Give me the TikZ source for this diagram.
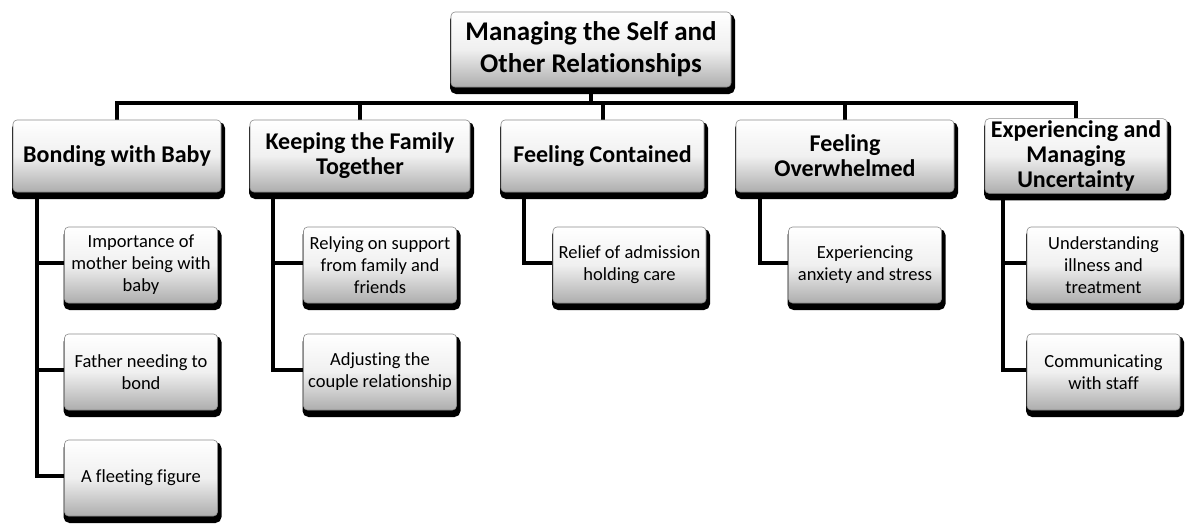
\documentclass[tikz,border=0pt]{standalone}
\usepackage{fontspec}
\setmainfont[Ligatures=NoCommon]{Carlito}
\usetikzlibrary{backgrounds,shadows}
\tikzset{
 boxbase/.style={rounded corners=4pt, draw=black!45, line width=0.6pt,
   top color=white, bottom color=black!32, middle color=black!6,
   align=center, inner sep=2pt, text=black,
   general shadow={fill=black, draw=black, line width=5pt, shadow xshift=1.5pt, shadow yshift=-4.5pt}},
 topbox/.style={boxbase, minimum width=280pt, minimum height=75pt, font=\bfseries\fontsize{27}{32}\selectfont},
 mainbox/.style={boxbase, minimum height=72pt, font=\bfseries\fontsize{24}{25}\selectfont},
 subbox/.style={boxbase, minimum width=153pt, minimum height=76pt, font=\fontsize{18.5}{22}\selectfont},
 conn/.style={line width=4pt, draw=black}
}
\begin{document}
\begin{tikzpicture}[x=1pt,y=1pt]
\useasboundingbox (0,0) rectangle (1189,-525);
\node[topbox] (t) at (591,-49.5) {Managing the Self and\\Other Relationships};
\node[mainbox, minimum width=208pt] (b) at (117,-156) {Bonding with Baby};
\node[mainbox, minimum width=220pt] (k) at (360,-156) {Keeping the Family\\Together};
\node[mainbox, minimum width=203pt] (c) at (602.5,-156) {Feeling Contained};
\node[mainbox, minimum width=218pt] (o) at (845,-156) {Feeling\\Overwhelmed};
\node[mainbox, minimum width=182pt] (e) at (1076,-156) {Experiencing and\\Managing\\Uncertainty};

\node[subbox] (b1) at (141,-265) {Importance of\\mother being with\\baby};
\node[subbox] (b2) at (141,-372) {Father needing to\\bond};
\node[subbox] (b3) at (141,-478) {A fleeting figure};
\node[subbox] (k1) at (380,-265) {Relying on support\\from family and\\friends};
\node[subbox] (k2) at (380,-372) {Adjusting the\\couple relationship};
\node[subbox] (c1) at (629.5,-265) {Relief of admission\\holding care};
\node[subbox] (o1) at (865,-265) {Experiencing\\anxiety and stress};
\node[subbox] (e1) at (1103.5,-265) {Understanding\\illness and\\treatment};
\node[subbox] (e2) at (1103.5,-372) {Communicating\\with staff};

\begin{pgfonlayer}{background}
\coordinate (bus) at (0,-103);
\draw[conn] (b.north) |- (t.south |- bus) -| (e.north);
\draw[conn] (t.south) -- (t.south |- bus);
\foreach \n in {k,c,o} \draw[conn] (\n.north) -- (\n.north |- bus);
\coordinate (bv) at ([xshift=24]b.south west);
\coordinate (kv) at ([xshift=23]k.south west);
\coordinate (cv) at ([xshift=23]c.south west);
\coordinate (ov) at ([xshift=24]o.south west);
\coordinate (ev) at ([xshift=18]e.south west);
\draw[conn] (bv) |- ([yshift=2]b3.west);
\draw[conn] (bv |- b1.west) ++(0,2) -- ([yshift=2]b1.west);
\draw[conn] (bv |- b2.west) ++(0,2) -- ([yshift=2]b2.west);
\draw[conn] (kv) |- ([yshift=2]k2.west);
\draw[conn] (kv |- k1.west) ++(0,2) -- ([yshift=2]k1.west);
\draw[conn] (cv) |- ([yshift=2]c1.west);
\draw[conn] (ov) |- ([yshift=2]o1.west);
\draw[conn] (ev) |- ([yshift=2]e2.west);
\draw[conn] (ev |- e1.west) ++(0,2) -- ([yshift=2]e1.west);
\end{pgfonlayer}
\end{tikzpicture}
\end{document}
